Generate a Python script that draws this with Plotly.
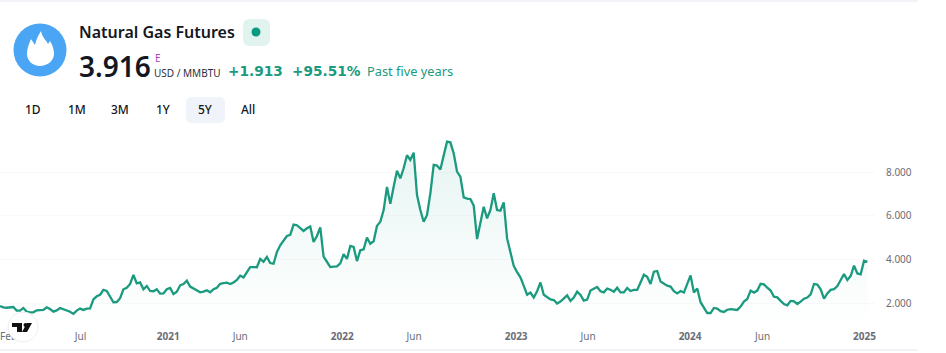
import pandas as pd
import plotly.graph_objects as go

START_DATE = "2020-01-14"
END_DATE = "2025-01-23"
prices = [
    1.91,1.85,1.83,1.83,1.86,1.70,1.70,1.82,1.65,1.62,1.62,1.71,1.73,1.73,1.85,1.77,1.65,1.71,1.82,1.76,
    1.70,1.65,1.55,1.70,1.79,1.73,1.79,1.80,2.21,2.35,2.42,2.64,2.59,2.33,2.08,2.09,2.26,2.67,2.74,2.91,
    3.32,2.94,2.98,2.67,2.82,2.59,2.58,2.67,2.47,2.48,2.67,2.73,
    2.45,2.56,2.85,2.91,3.06,2.79,2.70,2.61,2.53,2.56,2.62,2.53,2.67,2.74,2.92,2.95,2.97,2.91,2.98,
    3.09,3.29,3.21,3.47,3.68,3.68,3.67,4.05,3.92,4.14,3.86,3.83,4.36,4.67,4.91,5.09,5.14,5.61,5.58,5.45,
    5.32,5.44,5.52,4.82,5.09,5.48,4.15,3.92,3.68,3.70,3.71,
    3.85,4.26,4.05,4.64,4.59,3.95,4.44,4.48,5.02,4.74,4.85,5.55,5.74,6.27,7.32,6.55,7.33,8.06,7.71,8.17,
    8.76,8.55,8.88,6.95,6.27,5.74,6.05,7.03,8.32,8.29,8.11,8.77,9.38,9.35,8.85,8.02,7.79,6.85,6.79,6.77,
    6.47,4.95,5.67,6.42,5.89,6.27,7.03,6.27,6.24,6.62,4.98,
    4.38,3.73,3.45,3.21,2.82,2.42,2.52,2.29,2.58,2.98,2.42,2.32,2.21,2.18,2.02,2.11,2.23,2.39,2.14,2.29,
    2.56,2.41,2.15,2.20,2.61,2.71,2.77,2.58,2.53,2.70,2.65,2.56,2.74,2.53,2.53,2.73,2.59,2.64,2.64,2.98,
    3.33,3.24,2.91,3.47,3.50,3.02,2.94,2.83,2.79,2.58,2.48,2.59,2.52,2.94,
    3.30,2.52,2.70,2.08,1.85,1.59,1.59,1.82,1.79,1.67,1.64,1.74,1.77,1.76,1.73,1.88,2.11,2.23,2.61,2.52,
    2.61,2.92,2.89,2.74,2.61,2.33,2.30,2.14,2.00,1.94,2.14,2.12,2.00,2.11,2.24,2.29,2.44,2.91,2.88,2.67,
    2.24,2.48,2.64,2.67,2.82,3.09,3.36,3.09,3.27,3.74,3.39,3.35,3.97,3.916,
]
dates = pd.date_range(START_DATE, periods=len(prices), freq="7D")

x_tick_dates = ["2020-02-01","2020-07-01","2021-01-01","2021-06-01","2022-01-01","2022-06-01",
                "2023-01-01","2023-06-01","2024-01-01","2024-06-01","2025-01-01"]
x_tick_labels = ["Feb","Jul","<b>2021</b>","Jun","<b>2022</b>","Jun","<b>2023</b>","Jun","<b>2024</b>","Jun","<b>2025</b>"]
y_ticks = [2, 4, 6, 8]
y_tick_labels = ["2.000", "4.000", "6.000", "8.000"]
ranges = ["1D", "1M", "3M", "1Y", "5Y", "All"]

W, H = 946, 353
FONT = "Noto Sans"
WIDE = "DejaVu Sans"
GREEN = "#1a9a7e"
DARK = "#131722"
GREY = "#6a6d78"

def px(x): return x / W
def py(y): return 1 - y / H

def path(cmds):
    out = []
    for c in cmds:
        if isinstance(c, str):
            out.append(c)
        else:
            out.append(f"{px(c[0]):.5f} {py(c[1]):.5f}")
    return " ".join(out)

fig = go.Figure()
fig.add_trace(go.Scatter(
    x=dates, y=prices, mode="lines", line=dict(color=GREEN, width=2.3),
    fill="tozeroy",
    fillgradient=dict(type="vertical", start=1.0, stop=9.4,
                      colorscale=[[0, "rgba(8,153,129,0.0)"], [1, "rgba(8,153,129,0.10)"]]),
    hoverinfo="skip", showlegend=False,
))

shapes = []
def rect(x0, y0, x1, y1, **kw):
    shapes.append(dict(type="rect", xref="paper", yref="paper", x0=px(x0), x1=px(x1), y0=py(y0), y1=py(y1), **kw))
def circle(cx, cy, r, **kw):
    shapes.append(dict(type="circle", xref="paper", yref="paper", x0=px(cx-r), x1=px(cx+r), y0=py(cy-r), y1=py(cy+r), **kw))
def pshape(cmds, **kw):
    shapes.append(dict(type="path", xref="paper", yref="paper", path=path(cmds), **kw))
def rrect(x0, y0, x1, y1, r, color):
    pshape(["M",(x0+r,y0),"L",(x1-r,y0),"Q",(x1,y0),(x1,y0+r),"L",(x1,y1-r),"Q",(x1,y1),(x1-r,y1),
            "L",(x0+r,y1),"Q",(x0,y1),(x0,y1-r),"L",(x0,y0+r),"Q",(x0,y0),(x0+r,y0),"Z"],
           fillcolor=color, line=dict(width=0), layer="above")

NOLINE = dict(width=0)
rect(0, 0.5, 918, 1.5, fillcolor="#e6e8ee", line=NOLINE, layer="above")
rect(0, 349.5, 918, 350.5, fillcolor="#e6e8ee", line=NOLINE, layer="above")
# logo
circle(40, 50, 26.5, fillcolor="#4aa5f5", line=NOLINE, layer="above")
pshape(["M",(41,31),"C",(42,37),(46,40),(48,44),"L",(50,41),"C",(53,46),(54,50),(54,54),"C",(54,61),(47,66),(40,66),
        "C",(33,66),(27,61),(27,54),"C",(27,48),(29,44),(31,39),"L",(35,45),"C",(36,40),(38,36),(41,31),"Z"],
       fillcolor="white", line=NOLINE, layer="above")
# status badge
rrect(243, 19, 270, 46, 7, "#e0f3ef")
circle(256, 32, 4.5, fillcolor="#089981", line=NOLINE, layer="above")
# selected range
rrect(186, 97, 225, 123, 6, "#f0f3fa")
# watermark logo
circle(23, 327, 15, fillcolor="white", line=dict(color="#eceef2", width=1), layer="above")
pshape(["M",(12,323),"L",(22,323),"L",(22,332),"L",(17,332),"L",(17,327),"L",(12,327),"Z"],
       fillcolor="#111", line=NOLINE, layer="above")
circle(25.5, 325, 2, fillcolor="#111", line=NOLINE, layer="above")
pshape(["M",(27,323),"L",(32,323),"L",(27,332),"L",(22,332),"Z"], fillcolor="#111", line=NOLINE, layer="above")

ann = []
def text(x, y, s, size, color=DARK, anchor="left", weight=400, family=FONT):
    ann.append(dict(xref="paper", yref="paper", x=px(x), y=py(y), text=s, showarrow=False,
                    xanchor=anchor, yanchor="middle", xshift=0, borderpad=0, borderwidth=0,
                    font=dict(family=family, size=size, color=color, weight=weight)))

text(79, 32, "Natural Gas Futures", 16, weight=600)
text(79, 66, "3.916", 28, weight=600)
text(154.5, 58, "E", 10, color="#ab47bc")
text(154, 73, "USD / MMBTU", 10, color="#2a2e39")
text(228, 71, "+1.913", 13.7, color=GREEN, weight=700, family=WIDE)
text(292, 71, "+95.51%", 13.7, color=GREEN, weight=700, family=WIDE)
text(367, 71, "Past five years", 12.8, color=GREEN)
for lbl, cx in zip(ranges, [33, 77, 120, 163, 205.5, 248]):
    text(cx, 110, lbl, 12, anchor="center", weight=500)

fig.update_layout(
    width=W, height=H, autosize=False,
    margin=dict(l=0, r=0, t=0, b=0, pad=0),
    paper_bgcolor="white", plot_bgcolor="white",
    font=dict(family=FONT, size=10, color=GREY),
    shapes=shapes, annotations=ann, showlegend=False,
    xaxis=dict(domain=[0, 875/W], range=[START_DATE, END_DATE], type="date",
               tickmode="array", tickvals=x_tick_dates, ticktext=x_tick_labels,
               showgrid=False, zeroline=False, showline=False, ticks="", ticklen=0,
               ticklabelstandoff=4,
               tickfont=dict(family=FONT, size=10, color=GREY), anchor="y"),
    yaxis=dict(domain=[1-325/H, 1-130/H], range=[1.045, 9.909], side="right",
               tickmode="array", tickvals=y_ticks, ticktext=y_tick_labels,
               showgrid=True, gridcolor="#f9f9fa", gridwidth=1, zeroline=False, showline=False,
               ticks="", ticklabelstandoff=10,
               tickfont=dict(family=FONT, size=10, color=GREY), anchor="x"),
)
fig.write_html("out.html", config=dict(displayModeBar=False),
               post_script="document.body.style.margin='0';")
